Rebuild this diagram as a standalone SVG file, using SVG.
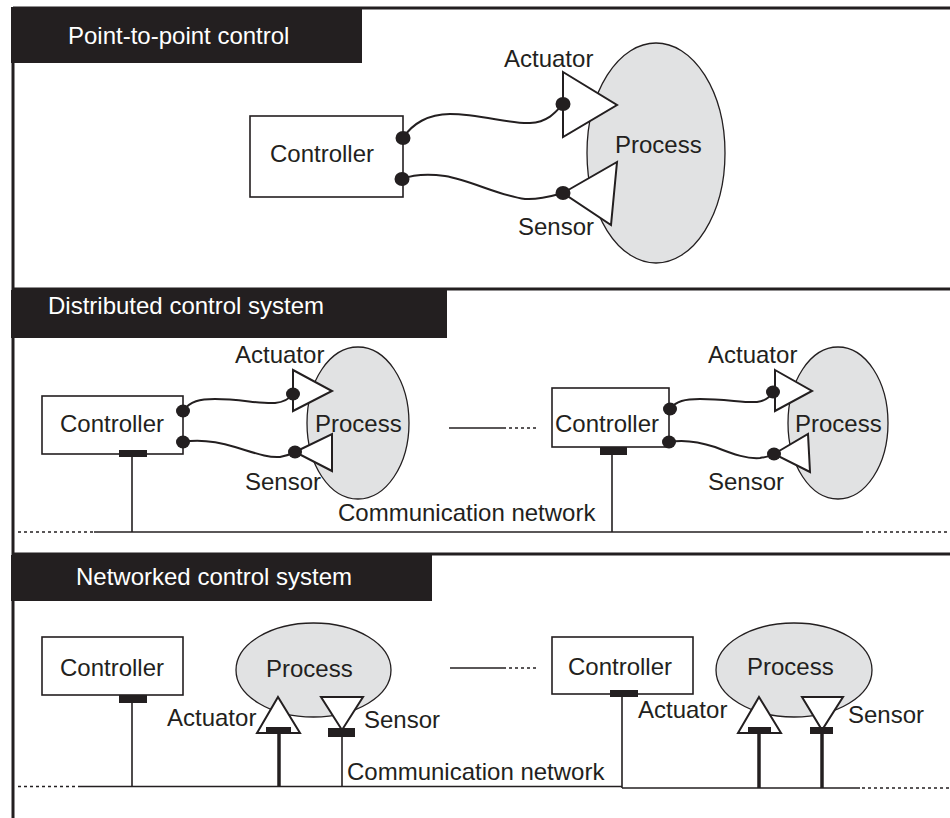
<svg xmlns="http://www.w3.org/2000/svg" width="950" height="818" viewBox="0 0 950 818">
  <defs>
    <style>
      .frame{stroke:#231f20;stroke-width:3;fill:none}
      .hdr{fill:#231f20}
      .hdrt{fill:#ffffff;font-family:"Liberation Sans",Arial,Helvetica,sans-serif;font-size:24px}
      .lbl{fill:#231f20;font-family:"Liberation Sans",Arial,Helvetica,sans-serif;font-size:24px}
      .box{fill:#ffffff;stroke:#231f20;stroke-width:1.6}
      .proc{fill:#e1e2e3;stroke:#231f20;stroke-width:1.3}
      .tri{fill:#ffffff;stroke:#231f20;stroke-width:2;stroke-linejoin:miter}
      .wire{fill:none;stroke:#231f20;stroke-width:2}
      .ink{fill:#231f20}
      .net{fill:none;stroke:#231f20;stroke-width:1.6}
      .dots{fill:none;stroke:#231f20;stroke-width:1.6;stroke-dasharray:3 3}
      .drop{fill:none;stroke:#231f20;stroke-width:1.6}
      .drop-thick{fill:none;stroke:#231f20;stroke-width:3.5}
    </style>
  </defs>

  <rect width="950" height="818" fill="#ffffff"/>

  <!-- outer frame and panel separators -->
  <g id="frame">
    <path class="frame" d="M13,8 H950 M13,289 H950 M13,554 H950 M13,8 V818"/>
    <rect class="hdr" x="11" y="7" width="351" height="56"/>
    <rect class="hdr" x="11" y="290" width="436" height="48"/>
    <rect class="hdr" x="11" y="555" width="421" height="46"/>
    <text class="hdrt" x="68" y="44">Point-to-point control</text>
    <text class="hdrt" x="48" y="314">Distributed control system</text>
    <text class="hdrt" x="76" y="585">Networked control system</text>
  </g>

  <!-- connectors: wires, network bus and drops -->
  <g id="connectors">
    <!-- point-to-point wiring -->
    <path class="wire" d="M403,138 C412,124 428,114 450,114 C480,114 510,124 530,123 C548,122 556,112 563,104"/>
    <path class="wire" d="M402,179 C415,174 430,174 445,176 C470,180 500,196 525,199 C540,200 552,196 563,193"/>

    <!-- distributed: local wiring -->
    <path class="wire" d="M183,411 C190,401 200,399 215,399 C240,399 260,404 275,403 C285,402 290,398 293,394"/>
    <path class="wire" d="M183,442 C200,439 215,441 235,447 C255,453 268,458 280,457 C287,456 291,454 295,452"/>
    <path class="wire" d="M670,409 C676,401 685,399 700,399 C725,399 745,403 757,402 C766,401 770,397 773,392"/>
    <path class="wire" d="M669,442 C685,439 700,442 715,447 C735,455 748,459 760,458 C767,457 771,456 774,454"/>

    <!-- distributed: network bus -->
    <path class="dots" d="M18,532 H94"/>
    <path class="net" d="M94,532 H863"/>
    <path class="dots" d="M866,532 H950"/>
    <path class="drop" d="M132,457 V532"/>
    <path class="drop" d="M612,455 V532"/>
    <path class="net" d="M449,428 H503"/>
    <path class="dots" d="M503,428 H537"/>

    <!-- networked: network bus -->
    <path class="dots" d="M18,786.5 H80"/>
    <path class="net" d="M80,786.5 H622"/>
    <path class="net" d="M622,788 H860"/>
    <path class="dots" d="M862,788 H950"/>
    <path class="drop" d="M132,703 V786.5"/>
    <path class="drop-thick" d="M279,733 V786.5"/>
    <path class="drop" d="M342,737 V786.5"/>
    <path class="drop" d="M622,697 V788"/>
    <path class="drop-thick" d="M759,733 V788"/>
    <path class="drop-thick" d="M822,734 V788"/>
    <path class="net" d="M450,668 H503"/>
    <path class="dots" d="M503,668 H537"/>
  </g>

  <!-- ===== Point-to-point control ===== -->
  <g id="p2p-controller">
    <rect class="box" x="250" y="116" width="153" height="81"/>
    <text class="lbl" x="270" y="162">Controller</text>
    <ellipse class="ink" cx="403" cy="138" rx="7.5" ry="7"/>
    <ellipse class="ink" cx="402" cy="179" rx="7.5" ry="7"/>
  </g>
  <g id="p2p-process">
    <ellipse class="proc" cx="656" cy="153" rx="69" ry="110"/>
    <text class="lbl" x="615" y="153">Process</text>
  </g>
  <g id="p2p-actuator">
    <polygon class="tri" points="563,72 617,105 563,137"/>
    <ellipse class="ink" cx="563" cy="104" rx="7.5" ry="7"/>
    <text class="lbl" x="504" y="67">Actuator</text>
  </g>
  <g id="p2p-sensor">
    <polygon class="tri" points="563,193 617,162 611,225"/>
    <ellipse class="ink" cx="563" cy="193" rx="7.5" ry="7"/>
    <text class="lbl" x="518" y="235">Sensor</text>
  </g>

  <!-- ===== Distributed control system ===== -->
  <g id="dcs-controller-1">
    <rect class="box" x="42" y="396" width="141" height="58"/>
    <text class="lbl" x="60" y="432">Controller</text>
    <ellipse class="ink" cx="183" cy="411" rx="7" ry="6.5"/>
    <ellipse class="ink" cx="183" cy="442" rx="7" ry="6.5"/>
    <rect class="ink" x="119" y="450" width="28" height="7"/>
  </g>
  <g id="dcs-process-1">
    <ellipse class="proc" cx="358" cy="423" rx="51" ry="76"/>
    <text class="lbl" x="315" y="432">Process</text>
  </g>
  <g id="dcs-actuator-1">
    <polygon class="tri" points="293,370 332,391 293,411"/>
    <ellipse class="ink" cx="293" cy="394" rx="7" ry="6.5"/>
    <text class="lbl" x="235" y="363">Actuator</text>
  </g>
  <g id="dcs-sensor-1">
    <polygon class="tri" points="295,452 332,434 332,471"/>
    <ellipse class="ink" cx="295" cy="452" rx="7" ry="6.5"/>
    <text class="lbl" x="245" y="490">Sensor</text>
  </g>
  <g id="dcs-controller-2">
    <rect class="box" x="552" y="388" width="117" height="59"/>
    <text class="lbl" x="555" y="432">Controller</text>
    <ellipse class="ink" cx="670" cy="409" rx="7" ry="6.5"/>
    <ellipse class="ink" cx="669" cy="442" rx="7" ry="6.5"/>
    <rect class="ink" x="600" y="447" width="27" height="8"/>
  </g>
  <g id="dcs-process-2">
    <ellipse class="proc" cx="838" cy="423" rx="50" ry="76"/>
    <text class="lbl" x="795" y="432">Process</text>
  </g>
  <g id="dcs-actuator-2">
    <polygon class="tri" points="775,370 812,391 775,411"/>
    <ellipse class="ink" cx="773" cy="392" rx="7" ry="6.5"/>
    <text class="lbl" x="708" y="363">Actuator</text>
  </g>
  <g id="dcs-sensor-2">
    <polygon class="tri" points="774,454 808,434 810,472"/>
    <ellipse class="ink" cx="774" cy="454" rx="7" ry="6.5"/>
    <text class="lbl" x="708" y="490">Sensor</text>
  </g>
  <g id="dcs-network">
    <text class="lbl" x="338" y="521">Communication network</text>
  </g>

  <!-- ===== Networked control system ===== -->
  <g id="ncs-controller-1">
    <rect class="box" x="42" y="637" width="141" height="58"/>
    <text class="lbl" x="60" y="676">Controller</text>
    <rect class="ink" x="119" y="695" width="28" height="8"/>
  </g>
  <g id="ncs-process-1">
    <ellipse class="proc" cx="313.5" cy="670" rx="77.5" ry="47"/>
    <text class="lbl" x="266" y="677">Process</text>
  </g>
  <g id="ncs-actuator-1">
    <polygon class="tri" points="278,697 300,733 257,733"/>
    <rect class="ink" x="266" y="727" width="25" height="6"/>
    <text class="lbl" x="167" y="726">Actuator</text>
  </g>
  <g id="ncs-sensor-1">
    <polygon class="tri" points="321,697 363,697 342,730"/>
    <rect class="ink" x="328" y="728" width="27" height="9"/>
    <text class="lbl" x="364" y="728">Sensor</text>
  </g>
  <g id="ncs-controller-2">
    <rect class="box" x="552" y="637" width="141" height="57"/>
    <text class="lbl" x="568" y="675">Controller</text>
    <rect class="ink" x="610" y="690" width="28" height="7"/>
  </g>
  <g id="ncs-process-2">
    <ellipse class="proc" cx="794" cy="670" rx="78" ry="47"/>
    <text class="lbl" x="747" y="675">Process</text>
  </g>
  <g id="ncs-actuator-2">
    <polygon class="tri" points="759,697 781,733 738,733"/>
    <rect class="ink" x="748" y="727" width="23" height="6"/>
    <text class="lbl" x="638" y="718">Actuator</text>
  </g>
  <g id="ncs-sensor-2">
    <polygon class="tri" points="802,697 843,697 822,730"/>
    <rect class="ink" x="810" y="727" width="23" height="7"/>
    <text class="lbl" x="848" y="723">Sensor</text>
  </g>
  <g id="ncs-network">
    <text class="lbl" x="347" y="780">Communication network</text>
  </g>
</svg>
